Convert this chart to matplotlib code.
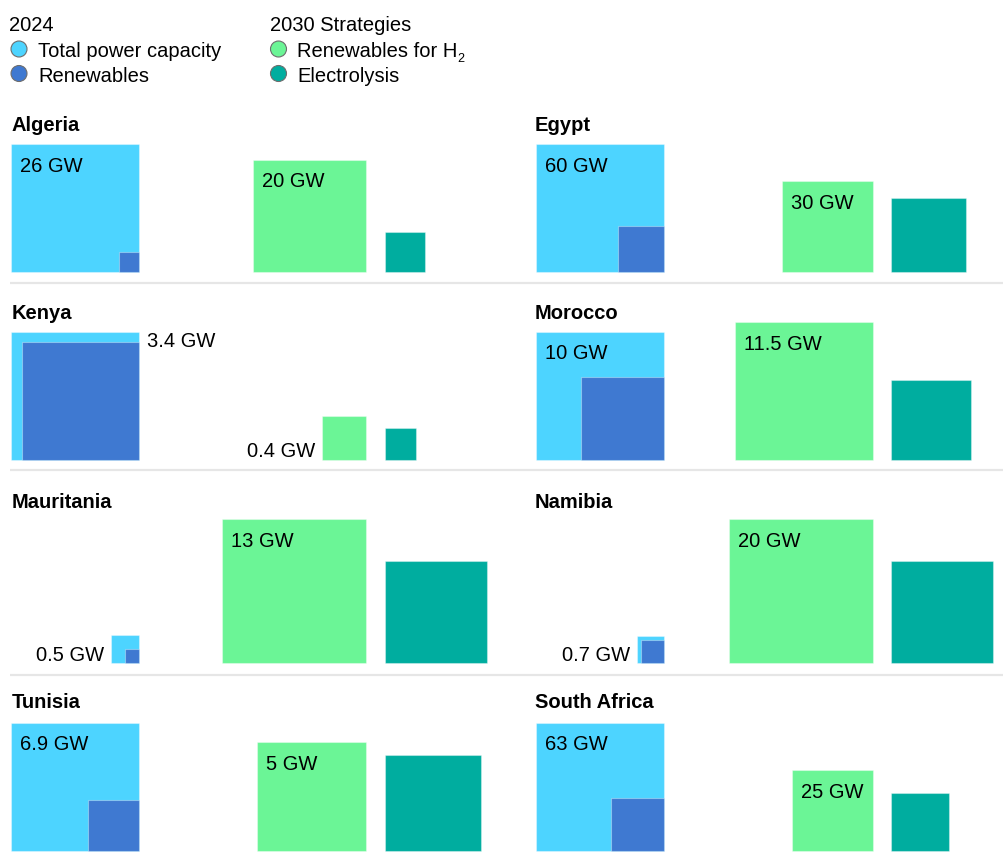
import matplotlib
matplotlib.use("Agg")
import matplotlib.pyplot as plt
from matplotlib.patches import Rectangle, Circle
import numpy as np

# ---------------- data ----------------
countries = ["Algeria", "Egypt", "Kenya", "Morocco",
             "Mauritania", "Namibia", "Tunisia", "South Africa"]
total_2024 = [26, 60, 3.4, 10, 0.5, 0.7, 6.9, 63]           # GW, total power capacity
renew_2024 = [0.64, 7.9, 2.85, 4.2, 0.13, 0.53, 1.1, 10.8]  # GW, renewables (estimated)
renew_h2_2030 = [20, 30, 0.4, 11.5, 13, 20, 5, 25]          # GW, renewables for H2
electrolysis_2030 = [2.6, 20.3, 0.2, 3.9, 6.5, 10, 3.9, 12.9]  # GW, electrolysis (estimated)
total_labels = ["26 GW", "60 GW", "3.4 GW", "10 GW", "0.5 GW", "0.7 GW", "6.9 GW", "63 GW"]
h2_labels = ["20 GW", "30 GW", "0.4 GW", "11.5 GW", "13 GW", "20 GW", "5 GW", "25 GW"]

# ---------------- style / layout ----------------
C_TOTAL = "#4DD4FF"
C_REN = "#3F79D1"
C_H2 = "#6BF596"
C_EL = "#00AD9F"
FS = 14.5
plt.rcParams["font.family"] = ["Liberation Sans", "DejaVu Sans"]

total_label_pos = ["in", "in", "right", "in", "left", "left", "in", "in"]
h2_label_pos = ["in", "in", "left", "in", "in", "in", "in", "in"]

col_total_right = [139.3, 664.3]
col_h2_right = [365.7, 872.7]
col_el_left = [385.0, 891.3]
col_title_x = [12, 535]
row_base = [273.0, 460.5, 664.3, 852.0]
row_title = [130.7, 319.3, 508.3, 707.7]
separators = [284.0, 470.7, 675.7]

fig = plt.figure(figsize=(10.04, 8.54), dpi=100)
ax = fig.add_axes([0, 0, 1, 1])
ax.set_xlim(0, 1004)
ax.set_ylim(854, 0)
ax.axis("off")


def scale_k(i):
    mx = max(total_2024[i], renew_h2_2030[i], electrolysis_2030[i])
    return min(128 / np.sqrt(total_2024[i]), 144 / np.sqrt(mx))


def square(x0, base, side, color, z=2):
    ax.add_patch(Rectangle((x0, base - side), side, side, facecolor=color,
                           edgecolor=(1, 1, 1, 0.35), linewidth=0.8, zorder=z))


def place_label(txt, x0, base, side, mode):
    top = base - side
    if mode == "in":
        ax.text(x0 + 9, top + 26.5, txt, fontsize=FS, va="baseline", ha="left", zorder=5)
    elif mode == "right":
        ax.text(x0 + side + 7.4, top + 15, txt, fontsize=FS, va="baseline", ha="left", zorder=5)
    else:
        ax.text(x0 - 7, base - 3, txt, fontsize=FS, va="baseline", ha="right", zorder=5)


for i, name in enumerate(countries):
    r, c = divmod(i, 2)
    k = scale_k(i)
    base = row_base[r]
    ax.text(col_title_x[c], row_title[r], name, fontsize=FS, fontweight="bold",
            va="baseline", ha="left")
    s_tot = k * np.sqrt(total_2024[i])
    s_ren = k * np.sqrt(renew_2024[i])
    x_tot = col_total_right[c] - s_tot
    square(x_tot, base, s_tot, C_TOTAL, 2)
    square(col_total_right[c] - s_ren, base, s_ren, C_REN, 3)
    place_label(total_labels[i], x_tot, base, s_tot, total_label_pos[i])
    s_h2 = k * np.sqrt(renew_h2_2030[i])
    x_h2 = col_h2_right[c] - s_h2
    square(x_h2, base, s_h2, C_H2, 2)
    place_label(h2_labels[i], x_h2, base, s_h2, h2_label_pos[i])
    s_el = k * np.sqrt(electrolysis_2030[i])
    square(col_el_left[c], base, s_el, C_EL, 2)

for y in separators:
    ax.plot([10, 1004], [y, y], color="#E6E6E6", linewidth=1.6, solid_capstyle="butt", zorder=1)

# ---------------- legend ----------------
leg_groups = [("2024", [("Total power capacity", C_TOTAL, None), ("Renewables", C_REN, None)], 9.3, 19),
              ("2030 Strategies", [("Renewables for H", C_H2, "2"), ("Electrolysis", C_EL, None)], 270, 278.5)]
fig.canvas.draw()
renderer = fig.canvas.get_renderer()
for head, items, hx, cx in leg_groups:
    ax.text(hx, 30.7, head, fontsize=FS, va="baseline", ha="left")
    for j, (lab, col, sub) in enumerate(items):
        cy = 50 + j * 24.5
        ax.add_patch(Circle((cx, cy), 8, facecolor=col, edgecolor="#6E6E6E", linewidth=0.8))
        t = ax.text(cx + 19, cy + 7.3, lab, fontsize=FS, va="baseline", ha="left")
        if sub:
            bb = t.get_window_extent(renderer=renderer)
            ax.text(bb.x1 - 1, cy + 12.5, sub, fontsize=9, va="baseline", ha="left")

fig.savefig("out.png", dpi=100)
